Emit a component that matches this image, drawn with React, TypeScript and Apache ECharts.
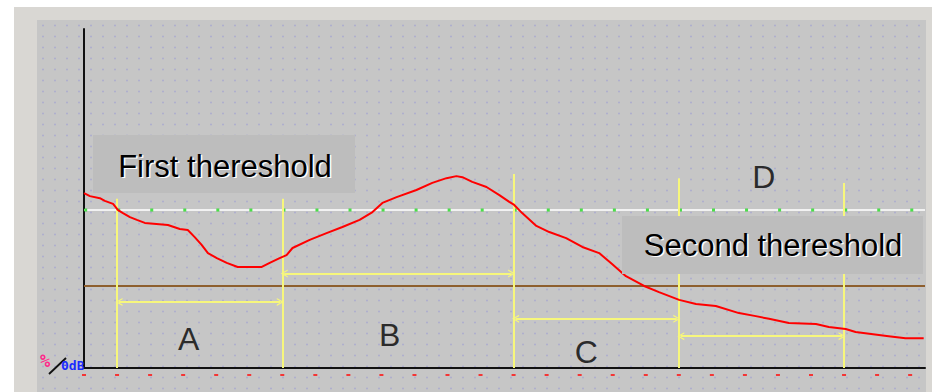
import React, { useEffect, useRef } from "react";
import * as echarts from "echarts";

// Curve: x in tick units, y in % of full screen height
const curveX = [0, 0.18, 0.48, 0.63, 0.88, 1.03, 1.18, 1.39, 1.6, 1.84, 2.54, 2.9, 3.14, 3.35, 3.56, 3.75, 4.02, 4.32, 4.65, 5.38, 5.62, 5.92, 6.13, 6.31, 6.83, 7.34, 7.82, 8.34, 8.73, 9.03, 9.46, 10.06, 10.54, 10.97, 11.27, 11.45, 11.75, 12.18, 12.57, 12.87, 13.02, 13.26, 13.69, 14.08, 14.59, 15.08, 15.59, 15.98, 16.4, 16.95, 17.4, 18.01, 18.52, 19.12, 19.82, 20.33, 20.73, 21.33, 22.15, 22.54, 23.05, 23.35, 24.35, 24.86, 25.41];
const curveY = [51.6, 50.7, 50.1, 49.3, 48.4, 46.6, 45.7, 44.5, 43.7, 42.8, 42.2, 41.0, 40.7, 38.6, 36.3, 33.9, 32.4, 31.0, 29.8, 29.8, 31.0, 32.4, 33.3, 35.4, 37.8, 39.8, 41.6, 43.7, 46.0, 48.7, 50.4, 52.5, 54.6, 56.0, 56.6, 56.3, 54.9, 53.4, 51.0, 49.0, 48.1, 45.7, 41.9, 40.1, 38.3, 35.7, 33.9, 30.7, 27.1, 24.2, 22.4, 20.1, 18.9, 18.3, 16.2, 15.3, 14.5, 13.3, 13.0, 12.1, 11.5, 10.6, 9.4, 8.8, 8.8];

const firstThreshold = 46.6;
const secondThreshold = 24.2;
const xMax = 25.45;
const tickPositions = Array.from({ length: 26 }, (_, i) => i);
const tickMarkLevel = -2.06;

const gateX = [1, 6, 13, 18, 23];
const gateTop = [49.9, 49.9, 57.2, 56.0, 54.6];

const spanNames = ["A", "B", "C", "D"];
const spanLevels = [19.5, 27.9, 14.5, 9.4];
const spanLabelX = [3.17, 9.25, 15.2, 20.57];
const spanLabelY = [8.55, 9.73, 4.6, 56.2];

const thresholdNames = ["First thereshold", "Second thereshold"];

const chevron = "path://M0,10 L5,0 L10,10 L8.4,10 L5,3.2 L1.6,10 Z";

export default function App() {
  const ref = useRef<HTMLDivElement>(null);

  useEffect(() => {
    if (!ref.current) return;
    const chart = echarts.init(ref.current, undefined, { renderer: "svg" });

    const shadowText = (text: string, cx: number, cy: number, size: number) => [
      {
        type: "text",
        z: 100,
        style: { text, x: cx + 1.5, y: cy + 1.5, fill: "#ffffff", font: `${size}px "Liberation Sans", Arial, sans-serif`, align: "center", verticalAlign: "middle" },
      },
      {
        type: "text",
        z: 101,
        style: { text, x: cx, y: cy, fill: "#000000", font: `${size}px "Liberation Sans", Arial, sans-serif`, align: "center", verticalAlign: "middle" },
      },
    ];

    const option: any = {
      animation: false,
      backgroundColor: "transparent",
      grid: { left: 84, right: 7, top: 29, bottom: 24, containLabel: false },
      xAxis: {
        type: "value",
        min: 0,
        max: xMax,
        axisLine: { show: true, onZero: false, lineStyle: { color: "#111", width: 2 } },
        axisTick: { show: false },
        axisLabel: { show: false },
        splitLine: { show: false },
      },
      yAxis: {
        type: "value",
        min: 0,
        max: 100,
        axisLine: { show: true, onZero: false, lineStyle: { color: "#111", width: 2 } },
        axisTick: { show: false },
        axisLabel: { show: false },
        splitLine: { show: false },
      },
      graphic: [
        { type: "rect", z: 50, shape: { x: 93, y: 135, width: 262, height: 58 }, style: { fill: "#bdbdbd" } },
        { type: "rect", z: 50, shape: { x: 622, y: 216, width: 301, height: 58 }, style: { fill: "#bdbdbd" } },
        ...shadowText(thresholdNames[0], 225, 166, 31),
        ...shadowText(thresholdNames[1], 773, 245, 31),
        {
          type: "text",
          z: 60,
          style: { text: "%", x: 40, y: 352, fill: "#ff2a8a", font: 'bold 17px "DejaVu Sans Mono", monospace' },
        },
        { type: "line", z: 60, shape: { x1: 49, y1: 374, x2: 66, y2: 358 }, style: { stroke: "#111", lineWidth: 1.8 } },
        {
          type: "text",
          z: 60,
          style: { text: "0dB", x: 61, y: 359, fill: "#1a2cff", font: 'bold 13px "DejaVu Sans Mono", monospace' },
        },
      ],
      series: [
        {
          type: "line",
          name: "second",
          data: [[0, secondThreshold], [xMax, secondThreshold]],
          symbol: "none",
          lineStyle: { color: "#8e5f2e", width: 2 },
          z: 2,
          silent: true,
        },
        {
          type: "line",
          name: "first",
          data: [[0, firstThreshold], [xMax, firstThreshold]],
          symbol: "none",
          lineStyle: { color: "#f2f2f2", width: 2 },
          z: 2,
          silent: true,
        },
        {
          type: "scatter",
          name: "thresholdDots",
          data: tickPositions.map((t) => [t + 0.05, firstThreshold]),
          symbol: "rect",
          symbolSize: 3,
          itemStyle: { color: "#1fd81f" },
          z: 3,
          silent: true,
        },
        {
          type: "line",
          name: "gates",
          data: [],
          z: 4,
          markLine: {
            silent: true,
            symbol: ["none", "none"],
            label: { show: false },
            lineStyle: { color: "#f7f77c", width: 2, type: "solid" },
            data: gateX.map((x, i) => [{ coord: [x, 0] }, { coord: [x, gateTop[i]] }]),
          },
        },
        {
          type: "line",
          name: "spans",
          data: [],
          z: 4,
          markLine: {
            silent: true,
            symbol: [chevron, chevron],
            symbolSize: [8, 7],
            label: { show: false },
            lineStyle: { color: "#f7f77c", width: 2, type: "solid" },
            itemStyle: { color: "#f7f77c" },
            data: spanLevels.map((lvl, i) => [{ coord: [gateX[i] + 0.06, lvl] }, { coord: [gateX[i + 1] - 0.06, lvl] }]),
          },
        },
        {
          type: "line",
          name: "echo",
          data: curveX.map((x, i) => [x, curveY[i]]),
          symbol: "none",
          lineStyle: { color: "#ff0000", width: 2 },
          z: 10,
          silent: true,
        },
        {
          type: "scatter",
          name: "ticks",
          data: tickPositions.map((t) => [t, tickMarkLevel]),
          symbol: "rect",
          symbolSize: [4, 2],
          itemStyle: { color: "#ff1010" },
          clip: false,
          silent: true,
        },
        {
          type: "scatter",
          name: "labels",
          data: spanNames.map((n, i) => ({ name: n, value: [spanLabelX[i], spanLabelY[i]] })),
          symbolSize: 0,
          silent: true,
          z: 20,
          label: {
            show: true,
            position: "inside",
            formatter: (p: any) => p.name,
            color: "#000",
            fontSize: 32,
            fontFamily: '"Liberation Sans", Arial, sans-serif',
          },
        },
      ],
    };

    chart.setOption(option);
    return () => chart.dispose();
  }, []);

  return (
    <div style={{ position: "absolute", left: 0, top: 0, width: 932, height: 392, background: "#ffffff", overflow: "hidden" }}>
      <div style={{ position: "absolute", left: 14, top: 7, width: 918, height: 385, background: "#d9d7d3" }} />
      <div
        style={{
          position: "absolute",
          left: 37,
          top: 20,
          width: 889,
          height: 372,
          backgroundColor: "#c6c6c6",
          backgroundImage: "radial-gradient(circle, rgba(140,140,215,0.4) 0.7px, rgba(198,198,198,0) 1.3px)",
          backgroundSize: "12px 11px",
        }}
      />
      <div ref={ref} style={{ position: "absolute", left: 0, top: 0, width: 932, height: 392 }} />
    </div>
  );
}
